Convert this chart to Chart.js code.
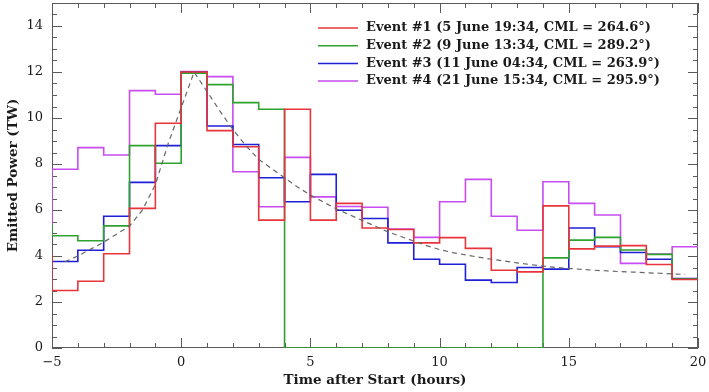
<!DOCTYPE html>
<html>
<head>
<meta charset="utf-8">
<script src="https://cdn.jsdelivr.net/npm/chart.js@4.4.0/dist/chart.umd.min.js"></script>
<style>
  html, body { margin: 0; padding: 0; background: #fff; }
</style>
</head>
<body>
<canvas id="chart" width="709" height="392"></canvas>
<script>
// Bordes de los bins (horas); el primer bin (-6..-5) queda fuera del eje y solo deja el escalón en x = -5
const binEdges = [-6, -5, -4, -3, -2, -1, 0, 1, 2, 3, 4, 5, 6, 7, 8, 9, 10, 11, 12, 13, 14, 15, 16, 17, 18, 19, 20];

// Potencia emitida (TW) por bin, uno por cada borde izquierdo
const event1 = [4.05, 2.5, 2.9, 4.1, 6.07, 9.77, 12.0, 9.45, 8.75, 5.56, 10.38, 5.56, 6.29, 5.22, 5.15, 4.57, 4.8, 4.33, 3.38, 3.31, 6.18, 4.31, 4.43, 4.45, 3.63, 2.98];
const event2 = [5.35, 4.88, 4.66, 5.31, 8.8, 8.03, 11.95, 11.45, 10.67, 10.38, 0, 0, 0, 0, 0, 0, 0, 0, 0, 0, 3.92, 4.69, 4.81, 4.26, 4.07, 3.0];
const event3 = [2.95, 3.76, 4.25, 5.73, 7.2, 8.8, 12.0, 9.65, 8.85, 7.4, 6.36, 7.55, 5.99, 5.63, 4.57, 3.86, 3.64, 2.95, 2.85, 3.5, 3.43, 5.22, 4.4, 4.15, 3.86, 3.02];
const event4 = [5.27, 7.77, 8.71, 8.39, 11.19, 11.03, 12.02, 11.8, 7.66, 6.14, 8.29, 6.57, 6.15, 6.12, 5.17, 4.81, 6.36, 7.33, 5.73, 5.12, 7.23, 6.29, 5.78, 3.68, 4.08, 4.4];

// Curva promedio (línea discontinua)
const modelHours = [-4.5, -4, -3.5, -3, -2.5, -2, -1.5, -1, -0.5, 0, 0.5, 1, 1.5, 2, 2.5, 3, 3.5, 4, 4.5, 5, 5.5, 6, 6.5, 7, 7.5, 8, 8.5, 9, 9.5, 10, 10.5, 11, 11.5, 12, 12.5, 13, 13.5, 14, 14.5, 15, 15.5, 16, 16.5, 17, 17.5, 18, 18.5, 19, 19.5];
const modelPower = [3.75, 4.0, 4.3, 4.6, 4.95, 5.3, 6.0, 7.1, 8.9, 10.45, 12.0, 11.15, 10.3, 9.5, 8.8, 8.2, 7.8, 7.4, 7.0, 6.65, 6.35, 6.05, 5.8, 5.55, 5.3, 5.05, 4.85, 4.65, 4.45, 4.28, 4.15, 4.05, 3.95, 3.86, 3.78, 3.7, 3.63, 3.56, 3.5, 3.46, 3.42, 3.38, 3.35, 3.32, 3.3, 3.27, 3.25, 3.22, 3.2];

const eventLabels = [
    'Event #1 (5 June 19:34, CML = 264.6°)',
    'Event #2 (9 June 13:34, CML = 289.2°)',
    'Event #3 (11 June 04:34, CML = 263.9°)',
    'Event #4 (21 June 15:34, CML = 295.9°)'
];
const eventColors = ['#e8353b', '#2ea12e', '#1f1fd6', '#c84cf2'];

const xTicks = [-5, 0, 5, 10, 15, 20];
const yTicks = [0, 2, 4, 6, 8, 10, 12, 14];

const serif = '"DejaVu Serif", "Liberation Serif", serif';

// Convierte los valores por bin en puntos para una línea escalonada
const toSteps = vals => binEdges.map((x, i) => ({ x: x, y: vals[Math.min(i, vals.length - 1)] }));

// Marco y marcas de escala hacia dentro en los cuatro lados
const frameTicks = {
    id: 'frameTicks',
    beforeDatasetsDraw(chart) {
        const { ctx, chartArea: a, scales: { x, y } } = chart;
        ctx.save();
        ctx.strokeStyle = '#5a5a5a';
        ctx.lineWidth = 1;
        ctx.beginPath();
        for (let t = -5; t <= 20; t++) {
            const px = Math.round(x.getPixelForValue(t)) + 0.5;
            const len = t % 5 === 0 ? 10 : 5;
            ctx.moveTo(px, a.bottom); ctx.lineTo(px, a.bottom - len);
            ctx.moveTo(px, a.top); ctx.lineTo(px, a.top + len);
        }
        for (let v = 0; v < 15; v += 0.5) {
            const py = Math.round(y.getPixelForValue(v)) + 0.5;
            const len = v % 2 === 0 ? 10 : 5;
            ctx.moveTo(a.left, py); ctx.lineTo(a.left + len, py);
            ctx.moveTo(a.right, py); ctx.lineTo(a.right - len, py);
        }
        ctx.stroke();
        ctx.strokeRect(a.left + 0.5, a.top + 0.5, a.right - a.left - 1, a.bottom - a.top - 1);
        ctx.restore();
    }
};

// Leyenda dentro del área del gráfico, arriba a la derecha
const insideLegend = {
    id: 'insideLegend',
    afterDraw(chart) {
        const { ctx, chartArea: a } = chart;
        ctx.save();
        ctx.font = 'bold 13px ' + serif;
        ctx.textBaseline = 'middle';
        eventLabels.forEach((label, i) => {
            const y = a.top + 25 + i * 17.7;
            ctx.strokeStyle = eventColors[i];
            ctx.lineWidth = 1.5;
            ctx.beginPath();
            ctx.moveTo(a.left + 266, y);
            ctx.lineTo(a.left + 306, y);
            ctx.stroke();
            ctx.fillStyle = '#1a1a1a';
            ctx.fillText(label, a.left + 314, y);
        });
        ctx.restore();
    }
};

const datasets = [event1, event2, event3, event4].map((vals, i) => ({
    label: eventLabels[i],
    data: toSteps(vals),
    borderColor: eventColors[i],
    borderWidth: 1.6,
    stepped: true,
    pointRadius: 0,
    fill: false,
    order: 1
}));

datasets.push({
    label: 'Average',
    data: modelHours.map((h, i) => ({ x: h, y: modelPower[i] })),
    borderColor: '#666666',
    borderWidth: 1.2,
    borderDash: [5, 4],
    pointRadius: 0,
    fill: false,
    tension: 0,
    order: 0
});

const ctx = document.getElementById('chart').getContext('2d');

new Chart(ctx, {
    type: 'line',
    data: { datasets: datasets },
    options: {
        responsive: false,
        animation: false,
        layout: { padding: { top: 3, right: 11, left: 0, bottom: 0 } },
        plugins: {
            legend: { display: false },
            tooltip: { enabled: false }
        },
        scales: {
            x: {
                type: 'linear',
                min: -5,
                max: 20,
                afterBuildTicks: sc => { sc.ticks = xTicks.map(v => ({ value: v })); },
                afterFit: sc => { sc.height = 44; sc.paddingLeft = 0; sc.paddingRight = 0; },
                grid: { display: false, drawTicks: false },
                border: { display: false },
                ticks: {
                    color: '#1a1a1a',
                    padding: 7,
                    maxRotation: 0,
                    font: { family: serif, size: 13 },
                    callback: v => v < 0 ? '\u2212' + Math.abs(v) : String(v)
                },
                title: {
                    display: true,
                    text: 'Time after Start (hours)',
                    color: '#1a1a1a',
                    font: { family: serif, size: 13.5, weight: 'bold' },
                    padding: { top: 0, bottom: 3 }
                }
            },
            y: {
                min: 0,
                max: 15,
                afterBuildTicks: sc => { sc.ticks = yTicks.map(v => ({ value: v })); },
                afterFit: sc => { sc.width = 52; sc.paddingTop = 0; sc.paddingBottom = 0; },
                grid: { display: false, drawTicks: false },
                border: { display: false },
                ticks: {
                    color: '#1a1a1a',
                    padding: 9,
                    font: { family: serif, size: 13 }
                },
                title: {
                    display: true,
                    text: 'Emitted Power (TW)',
                    color: '#1a1a1a',
                    font: { family: serif, size: 13.5, weight: 'bold' },
                    padding: { top: 5, bottom: 0 }
                }
            }
        }
    },
    plugins: [frameTicks, insideLegend]
});
</script>
</body>
</html>
